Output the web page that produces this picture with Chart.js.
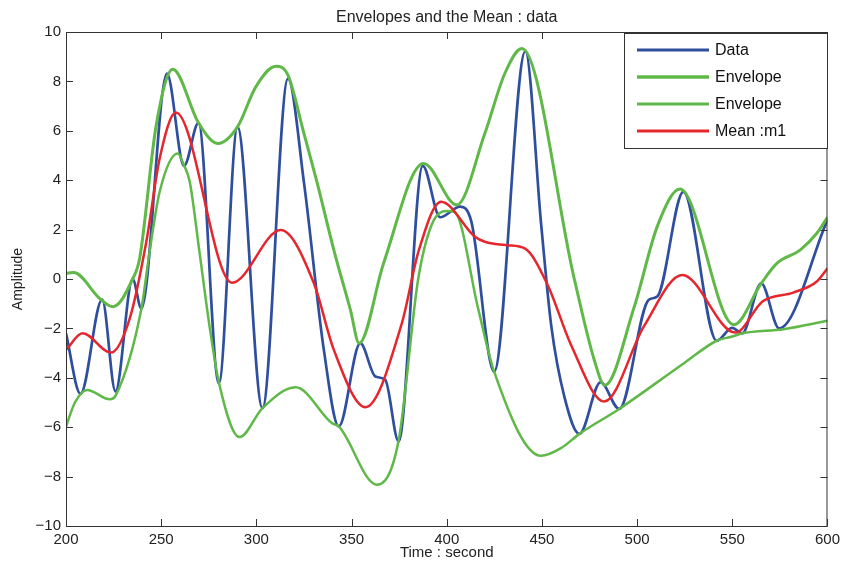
<!DOCTYPE html>
<html lang="en">
<head>
<meta charset="UTF-8">
<title>Envelopes and the Mean : data</title>
<script src="https://cdn.jsdelivr.net/npm/chart.js"></script>
<style>
  html, body { margin: 0; padding: 0; background: #fff; }
</style>
</head>
<body>
<canvas id="envChart" width="845" height="563"></canvas>
<script>
// signal
const dataT = [200, 207.6, 219, 226, 235, 239.6, 253, 262, 269.6, 280.3, 290.1, 303.2, 316.6, 325, 335.5, 343.3,
  354.6, 362.5, 367.7, 374.7, 387.4, 396.5, 407, 413, 424.9, 441.3, 449.6, 454.9, 461.9, 469.7, 480.8, 490.6,
  506, 510.7, 524.3, 541.8, 549.9, 555.2, 565.2, 574.6, 600];
const dataY = [-2.2, -4.65, -0.83, -4.55, 0, -1.2, 8.32, 4.58, 6.32, -4.22, 6.16, -5.23, 8.11, 3.9, -2.9, -5.97,
  -2.6, -3.95, -4.08, -6.58, 4.58, 2.5, 2.93, 2.3, -3.75, 9.22, 2.2, -1.9, -4.8, -6.27, -4.18, -5.26,
  -0.85, -0.7, 3.53, -2.5, -1.98, -2.2, -0.18, -2.0, 2.4];

// upper envelope
const upperT = [200, 204, 218, 224.7, 235, 238.7, 247.4, 256.1, 269.6, 279.7, 290.1, 299.7, 310.3, 316.6, 325, 332,
  340.7, 349.4, 354, 366.8, 387.8, 405.3, 420, 430.5, 439.5, 467, 477.5, 483, 498.4, 510.7, 522.5, 550.8,
  565.2, 573.4, 585.6, 594.4, 600];
const upperY = [0.23, 0.26, -0.81, -1.12, 0.0, 0.84, 6.23, 8.49, 6.32, 5.49, 6.16, 7.78, 8.61, 8.25, 5.89, 3.87,
  1.17, -1.25, -2.6, 0.63, 4.68, 3.0, 5.89, 8.32, 9.33, 0.0, -3.28, -4.3, -1.15, 2.15, 3.64, -1.85,
  -0.18, 0.63, 1.17, 1.85, 2.5];

// lower envelope
const lowerT = [200, 204.7, 211.1, 223, 226.2, 239.6, 243.9, 249.2, 258.7, 262, 265, 270.1, 275.3, 280.4, 291.2,
  303.2, 320.6, 339.8, 343.3, 363.3, 374.7, 385, 392.1, 400, 404.3, 416.5, 424.9, 449.6, 460, 469.7,
  490.6, 524.6, 541.8, 550, 555.2, 576.9, 600];
const lowerY = [-5.97, -5.0, -4.49, -4.87, -4.7, -1.2, 1.1, 3.53, 5.08, 4.6, 3.94, 1.1, -1.86, -4.22, -6.4,
  -5.23, -4.38, -5.84, -5.97, -8.33, -6.55, 0.0, 2.2, 2.75, 2.7, -1.2, -3.75, -7.16, -6.85, -6.27,
  -5.26, -3.41, -2.5, -2.33, -2.2, -2.03, -1.69];

// mean of the two envelopes
const meanT = [200, 208.7, 223.5, 233.5, 242.2, 249.2, 257.7, 287.2, 312.8, 330.2, 340.7, 357.3, 376.4, 385.1,
  397, 414.8, 420, 432, 441, 453, 465.3, 482.7, 503.7, 523.7, 551.6, 566, 582, 594.4, 600];
const meanY = [-2.87, -2.2, -2.98, -1.59, 1.51, 4.88, 6.74, -0.15, 1.98, -0.17, -2.87, -5.19, -1.8, 1.1,
  3.13, 1.71, 1.51, 1.37, 1.24, -0.24, -2.67, -4.96, -1.9, 0.16, -2.17, -0.9, -0.55, -0.1, 0.43];

const xTicks = [200, 250, 300, 350, 400, 450, 500, 550, 600];
const yTicks = [-10, -8, -6, -4, -2, 0, 2, 4, 6, 8, 10];

const seriesNames = ['Data', 'Envelope', 'Envelope', 'Mean :m1'];

const FONT = '"Liberation Sans", Arial, Helvetica, sans-serif';
const INK = '#222';

Chart.defaults.font.family = FONT;
Chart.defaults.color = INK;

function pts(ts, ys) {
  return ts.map((t, i) => ({ x: t, y: ys[i] }));
}

// box, inward tick marks, title and legend drawn on top of the plot
const framePlugin = {
  id: 'frame',
  afterDraw(chart) {
    const { ctx, chartArea: a, scales } = chart;
    ctx.save();
    ctx.strokeStyle = '#333';
    ctx.lineWidth = 1;
    ctx.strokeRect(a.left + 0.5, a.top + 0.5, a.right - a.left - 1, a.bottom - a.top);

    const tl = 7;
    ctx.beginPath();
    xTicks.forEach(v => {
      const px = Math.round(scales.x.getPixelForValue(v)) + 0.5;
      ctx.moveTo(px, a.bottom); ctx.lineTo(px, a.bottom - tl);
      ctx.moveTo(px, a.top); ctx.lineTo(px, a.top + tl);
    });
    yTicks.forEach(v => {
      const py = Math.round(scales.y.getPixelForValue(v)) + 0.5;
      ctx.moveTo(a.left, py); ctx.lineTo(a.left + tl, py);
      ctx.moveTo(a.right, py); ctx.lineTo(a.right - tl, py);
    });
    ctx.stroke();

    // title
    ctx.fillStyle = INK;
    ctx.font = '16px ' + FONT;
    ctx.textAlign = 'center';
    ctx.textBaseline = 'alphabetic';
    ctx.fillText('Envelopes and the Mean : data', (a.left + a.right) / 2, 22);

    // legend
    const lx = 624, ly = 33, lw = 203, lh = 115;
    ctx.fillStyle = '#fff';
    ctx.fillRect(lx, ly, lw, lh);
    ctx.strokeStyle = '#333';
    ctx.strokeRect(lx + 0.5, ly + 0.5, lw, lh);
    ctx.font = '16px ' + FONT;
    ctx.textAlign = 'left';
    ctx.textBaseline = 'middle';
    chart.data.datasets.forEach((ds, i) => {
      const ry = ly + 17 + i * 27;
      ctx.strokeStyle = ds.borderColor;
      ctx.lineWidth = ds.borderWidth + 0.4;
      ctx.beginPath();
      ctx.moveTo(637, ry); ctx.lineTo(709, ry);
      ctx.stroke();
      ctx.fillStyle = '#111';
      ctx.fillText(ds.label, 715, ry + 1);
    });
    ctx.restore();
  }
};

new Chart(document.getElementById('envChart'), {
  type: 'line',
  data: {
    datasets: [
      { label: seriesNames[0], data: pts(dataT, dataY), borderColor: '#2f4f9e', borderWidth: 2.7, order: 4 },
      { label: seriesNames[1], data: pts(upperT, upperY), borderColor: '#5fb847', borderWidth: 3, order: 3 },
      { label: seriesNames[2], data: pts(lowerT, lowerY), borderColor: '#5fb847', borderWidth: 2.5, order: 2 },
      { label: seriesNames[3], data: pts(meanT, meanY), borderColor: '#e5262c', borderWidth: 2.5, order: 1 }
    ]
  },
  options: {
    responsive: false,
    animation: false,
    layout: { padding: { top: 32, right: 14, left: 0, bottom: 0 } },
    elements: {
      point: { radius: 0 },
      line: { cubicInterpolationMode: 'monotone', fill: false }
    },
    plugins: {
      legend: { display: false },
      tooltip: { enabled: false }
    },
    scales: {
      x: {
        type: 'linear',
        min: 200,
        max: 600,
        afterBuildTicks: s => { s.ticks = xTicks.map(v => ({ value: v })); },
        afterFit: s => { s.height = 37; },
        grid: { display: false, drawTicks: false },
        border: { display: false },
        ticks: { font: { size: 15 }, color: INK, padding: 5, maxRotation: 0 },
        title: { display: true, text: 'Time : second', font: { size: 15 }, color: INK, padding: { top: 0, bottom: 1 } }
      },
      y: {
        type: 'linear',
        min: -10,
        max: 10,
        afterBuildTicks: s => { s.ticks = yTicks.map(v => ({ value: v })); },
        afterFit: s => { s.width = 66; },
        grid: { display: false, drawTicks: false },
        border: { display: false },
        ticks: {
          font: { size: 15 }, color: INK, padding: 5,
          callback: v => String(v).replace('-', '\u2212')
        },
        title: { display: true, text: 'Amplitude', font: { size: 14 }, color: INK, padding: { top: 10, bottom: 0 } }
      }
    }
  },
  plugins: [framePlugin]
});
</script>
</body>
</html>
